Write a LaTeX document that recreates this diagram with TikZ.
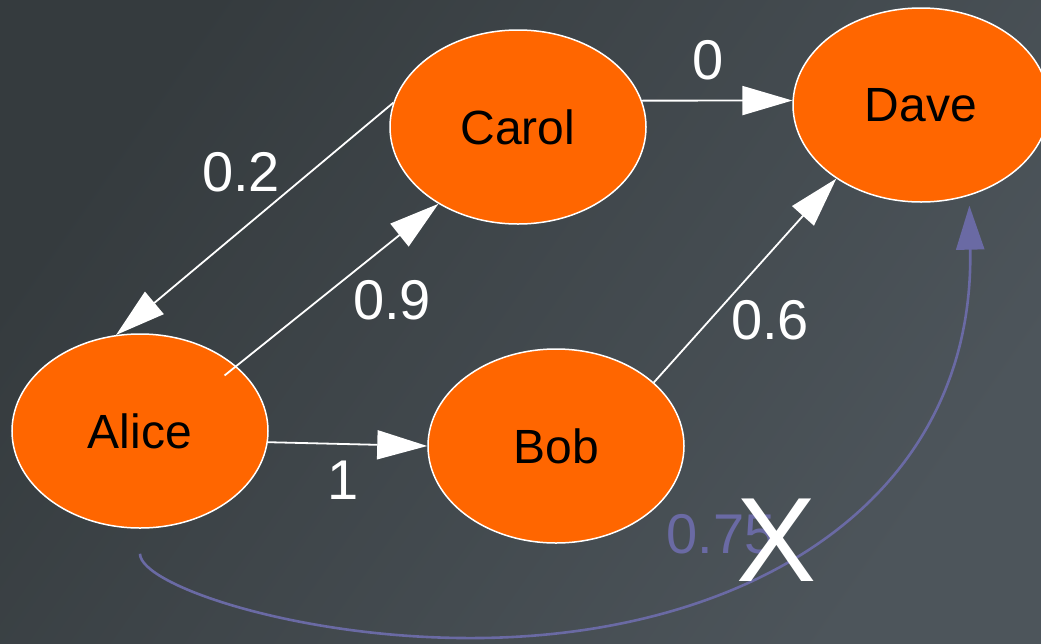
\documentclass[tikz,border=0pt]{standalone}
\usepackage{fontspec}
\setsansfont{Liberation Sans}
\usepackage{xcolor}
\usepackage{tikz}
\usetikzlibrary{calc,shapes.geometric,arrows.meta}
\definecolor{bgtop}{HTML}{353B3E}
\definecolor{bgbot}{HTML}{4D555B}
\definecolor{peer}{HTML}{FF6600}
\definecolor{plum}{HTML}{6A6AA4}
\tikzset{
  peernode/.style = {ellipse, draw=white, fill=peer, line width=1.5pt, inner sep=0pt,
                     minimum width=256pt, minimum height=194pt,
                     font=\fontsize{48}{50}\selectfont\sffamily\color{black}},
  trust/.style    = {-{Triangle[length=50pt,width=29pt]}, draw=white, line width=1.8pt},
  revoked/.style  = {-{Triangle[length=44pt,width=28pt]}, draw=plum, line width=2.6pt},
  wlab/.style     = {font=\fontsize{56}{58}\selectfont\sffamily\color{white}, inner sep=0pt, outer sep=0pt},
  plab/.style     = {font=\fontsize{56}{58}\selectfont\sffamily\color{plum}, inner sep=0pt, outer sep=0pt},
  cross/.style    = {font=\fontsize{120}{122}\selectfont\sffamily\color{white}, inner sep=0pt, outer sep=0pt},
}

\begin{document}
\begin{tikzpicture}[x=1pt,y=-1pt]
\useasboundingbox (0,0) rectangle (1041,643);
\clip (0,0) rectangle (1041,643);
\shade[top color=bgtop, bottom color=bgbot, shading angle=55] (0,0) rectangle (1041,643);

% ---- the four peers -----------------------------------------------------
\node[peernode] (carol) at (518,127) {Carol};
\node[peernode] (dave)  at (921,105) {Dave};
\node[peernode] (alice) at (140,431) {Alice};
\node[peernode] (bob)   at (556,446) {Bob};

% ---- trust edges --------------------------------------------------------
\draw[trust] (carol.12)  -- (dave.178);
\draw[trust] (carol.169) -- (alice.104);
\draw[trust, shorten <=-15pt] (alice.34) -- (carol.224);
\draw[trust] (alice.-5)  -- (bob.180);
\draw[trust] (bob.33)    -- (dave.221);

\node[wlab] (wzero) at (708,60)  {0};
\node[wlab] (wtwo)  at (241,172) {0.2};
\node[wlab] (wnine) at (392,300) {0.9};
\node[wlab] (wone)  at (343,480) {1};
\node[wlab] (wsix)  at (770,320) {0.6};

% ---- the struck-out edge ------------------------------------------------
\draw[revoked, shorten <=25pt, shorten >=10pt] (alice.south)
  .. controls (140,585) and (300,640) .. (480,638)
  .. controls (750,635) and (975,500) .. (dave.-62);
\node[plab]  (wsevfive) at (721,534) {0.75};
\node[cross] (strike)   at (777,540) {X};

\end{tikzpicture}
\end{document}
